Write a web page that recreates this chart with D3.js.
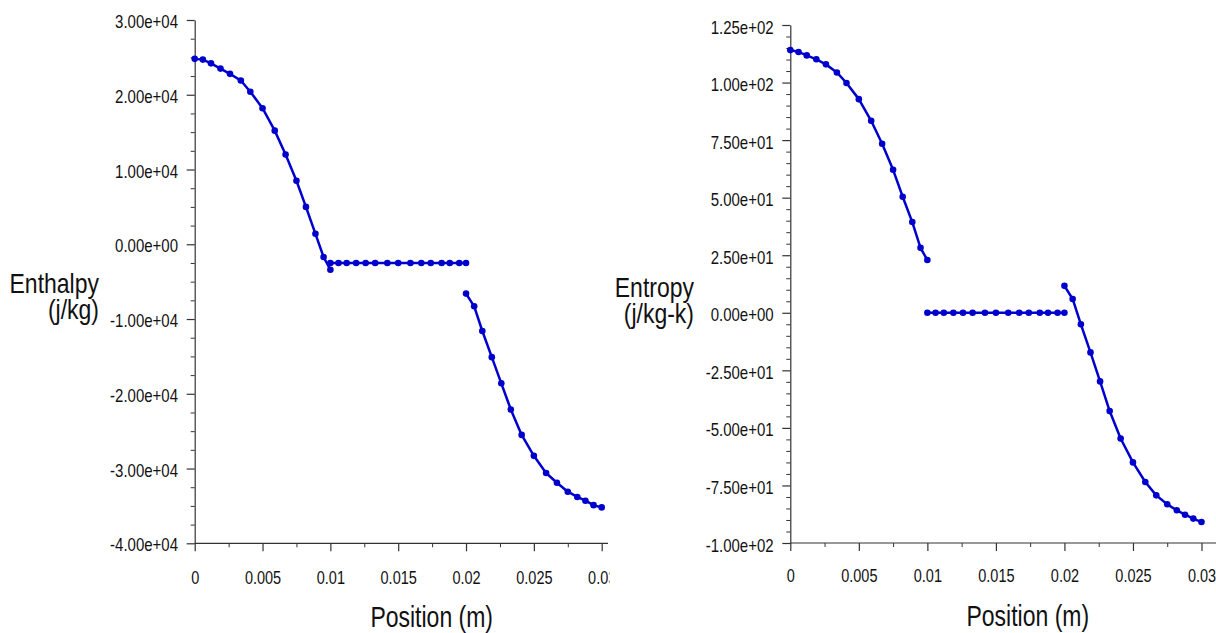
<!DOCTYPE html>
<html><head><meta charset="utf-8">
<script src="https://cdn.jsdelivr.net/npm/d3@7"></script>
<style>html,body{margin:0;padding:0;background:#fff;}svg{display:block;}</style>
</head><body><svg id="c" width="1216" height="633"></svg>
<script>
// ---- data ----
const seg1X = [0, 0.0006, 0.0012, 0.0019, 0.0026, 0.0034, 0.0041, 0.005, 0.0059, 0.0067, 0.0075, 0.0082, 0.0089, 0.0095, 0.01];
const seg2X = [0.01, 0.0106, 0.0112, 0.0119, 0.0126, 0.0133, 0.0142, 0.015, 0.0159, 0.0167, 0.0174, 0.0182, 0.0188, 0.0195, 0.02];
const seg3X = [0.02, 0.0206, 0.0212, 0.0219, 0.0226, 0.0233, 0.0241, 0.025, 0.0259, 0.0267, 0.0275, 0.0282, 0.0288, 0.0294, 0.03];

const enthalpy1 = [24800, 24700, 24200, 23500, 22800, 21900, 20400, 18200, 15200, 12000, 8500, 5000, 1400, -1700, -3400];
const enthalpy2 = [-2500, -2500, -2500, -2500, -2500, -2500, -2500, -2500, -2500, -2500, -2500, -2500, -2500, -2500, -2500];
const enthalpy3 = [-6600, -8300, -11600, -15100, -18600, -22100, -25500, -28300, -30600, -31900, -33100, -33800, -34300, -34900, -35200];

const entropy1 = [114.1, 113.3, 111.8, 110.1, 107.9, 104.4, 99.8, 92.8, 83.4, 73.4, 62.1, 50.4, 39.4, 28.2, 22.9];
const entropy2 = [0, 0, 0, 0, 0, 0, 0, 0, 0, 0, 0, 0, 0, 0, 0];
const entropy3 = [11.7, 6.0, -5.0, -17.2, -29.8, -42.7, -54.6, -65.0, -73.5, -79.3, -83.2, -85.8, -87.7, -89.4, -90.9];

const xTicks = [0, 0.005, 0.01, 0.015, 0.02, 0.025, 0.03];
const xMinorTicks = [0.0025, 0.0075, 0.0125, 0.0175, 0.0225, 0.0275];
const enthalpyTicks = [-40000, -30000, -20000, -10000, 0, 10000, 20000, 30000];
const entropyTicks = [-100, -75, -50, -25, 0, 25, 50, 75, 100, 125];
const xTitle = "Position (m)";
const enthalpyTitle = ["Enthalpy", "(j/kg)"];
const entropyTitle = ["Entropy", "(j/kg-k)"];

// ---- drawing ----
const svg = d3.select("#c");
const FONT = "'Liberation Sans', Arial, Helvetica, sans-serif";
const AX = "#333";
const BLUE = "#0000cd";

function sciFmt(v) {
  const s = d3.format(".2e")(v).replace("\u2212", "-");
  return s.replace(/e([+-])(\d)$/, "e$10$2");
}
function xFmt(v) { return v === 0 ? "0" : d3.format("~g")(v); }

function stext(g, x, y, str, size, sy, anchor) {
  g.append("text")
    .attr("transform", `translate(${x},${y}) scale(1,${sy})`)
    .attr("text-anchor", anchor)
    .attr("font-family", FONT)
    .attr("font-size", size)
    .attr("fill", "#111")
    .text(str);
}

function panel(cfg) {
  const g = svg.append("g");
  const x = d3.scaleLinear().domain([0, 0.03]).range([cfg.x0, cfg.x1]);
  const y = d3.scaleLinear().domain(cfg.yDomain).range([cfg.yBottom, cfg.yTop]);
  const ySub = (cfg.yDomain[1] - cfg.yDomain[0]) / cfg.minorStep;
  const yMinor = d3.range(0, ySub + 1).map(i => cfg.yDomain[0] + i * cfg.minorStep)
    .filter(v => !cfg.yTicks.some(t => Math.abs(t - v) < 1e-9));

  // y minor ticks
  g.append("g").attr("transform", `translate(${cfg.x0},0)`)
    .call(d3.axisLeft(y).tickValues(yMinor).tickSize(4).tickFormat(() => ""))
    .call(a => a.select(".domain").remove())
    .selectAll("line").attr("stroke", AX);
  // y major
  const ya = g.append("g").attr("transform", `translate(${cfg.x0},0)`)
    .call(d3.axisLeft(y).tickValues(cfg.yTicks).tickSize(8).tickSizeOuter(0).tickPadding(8.7).tickFormat(sciFmt))
    .attr("font-size", null).attr("font-family", null);
  ya.select(".domain").attr("stroke", AX).attr("stroke-width", 1.2);
  ya.selectAll("line").attr("stroke", AX).attr("stroke-width", 1.2);
  ya.selectAll("text").attr("dy", null).attr("y", cfg.yLabDy / 1.25)
    .attr("transform", "scale(1,1.25)")
    .attr("font-family", FONT).attr("font-size", 15).attr("fill", "#111");

  // x axis
  const xg = g.append("g").attr("transform", `translate(0,${cfg.yBottom})`);
  xg.append("line").attr("x1", cfg.x0).attr("x2", cfg.xEnd).attr("y1", 0).attr("y2", 0)
    .attr("stroke", AX).attr("stroke-width", 1.2);
  xg.append("g")
    .call(d3.axisBottom(x).tickValues(xMinorTicks).tickSize(4).tickFormat(() => ""))
    .call(a => a.select(".domain").remove())
    .selectAll("line").attr("stroke", AX);
  const clipId = "clip" + cfg.id;
  svg.append("clipPath").attr("id", clipId).append("rect")
    .attr("x", 0).attr("y", -20).attr("width", cfg.xClip).attr("height", 100);
  const xa = xg.append("g").attr("clip-path", `url(#${clipId})`)
    .call(d3.axisBottom(x).tickValues(xTicks).tickSize(8).tickSizeOuter(0).tickFormat(xFmt))
    .attr("font-size", null).attr("font-family", null);
  xa.select(".domain").remove();
  xa.selectAll("line").attr("stroke", AX).attr("stroke-width", 1.2);
  xa.selectAll("text").attr("dy", null).attr("y", cfg.xLabDy / 1.25)
    .attr("transform", "scale(1,1.25)")
    .attr("font-family", FONT).attr("font-size", 14.5).attr("fill", "#111");

  // titles
  stext(g, cfg.xTitleX, cfg.xTitleY, xTitle, 23, 1.3, "middle");
  stext(g, cfg.yTitleX, cfg.yTitleY, cfg.yTitle[0], 23, 1.18, "end");
  stext(g, cfg.yTitleX, cfg.yTitleY + 26, cfg.yTitle[1], 23, 1.18, "end");

  // data
  const line = d3.line().x(d => x(d[0])).y(d => y(d[1]));
  cfg.series.forEach(s => {
    const pts = s.xs.map((v, i) => [v, s.ys[i]]);
    g.append("path").attr("d", line(pts)).attr("fill", "none")
      .attr("stroke", BLUE).attr("stroke-width", 2.5).attr("stroke-linejoin", "round");
    g.selectAll(null).data(pts).enter().append("circle")
      .attr("cx", d => x(d[0])).attr("cy", d => y(d[1])).attr("r", 3.3).attr("fill", BLUE);
  });
}

panel({
  id: "L", x0: 194.7, x1: 601.7, xEnd: 608, xClip: 609.5,
  yDomain: [-40000, 30000], yTop: 20, yBottom: 543.3, yTicks: enthalpyTicks, minorStep: 2500,
  yLabDy: 7.5, xLabDy: 40.7,
  xTitleX: 431.7, xTitleY: 626.5, yTitleX: 99, yTitleY: 293.3, yTitle: enthalpyTitle,
  series: [{xs: seg1X, ys: enthalpy1}, {xs: seg2X, ys: enthalpy2}, {xs: seg3X, ys: enthalpy3}]
});
panel({
  id: "R", x0: 790.3, x1: 1201.5, xEnd: 1216, xClip: 1216,
  yDomain: [-100, 125], yTop: 25, yBottom: 543, yTicks: entropyTicks, minorStep: 5,
  yLabDy: 8, xLabDy: 39,
  xTitleX: 1027.8, xTitleY: 626, yTitleX: 694, yTitleY: 296.7, yTitle: entropyTitle,
  series: [{xs: seg1X, ys: entropy1}, {xs: seg2X, ys: entropy2}, {xs: seg3X, ys: entropy3}]
});
</script>
</body></html>
